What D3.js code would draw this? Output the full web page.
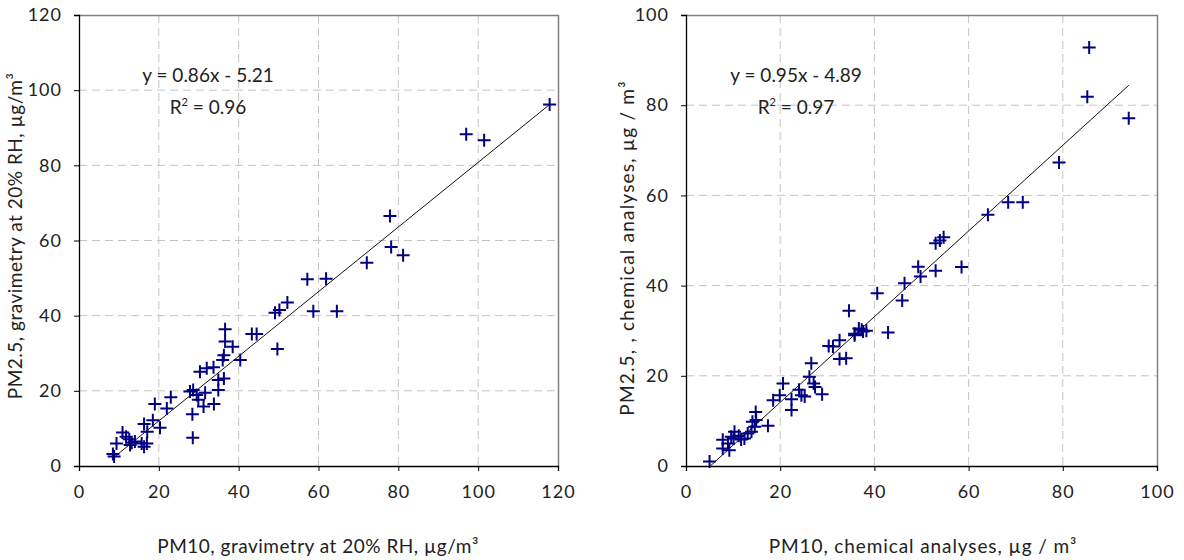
<!DOCTYPE html>
<html>
<head>
<meta charset="utf-8">
<script src="https://cdn.jsdelivr.net/npm/d3@7"></script>
<style>
  body { margin: 0; background: #fff; }
  text { font-family: Lato, "Open Sans", sans-serif; fill: #222; }
</style>
</head>
<body>
<div id="chartArea"></div>
<script>
// left panel: PM10 vs PM2.5, gravimetry at 20% RH
var gravX = [8.5, 8.8, 9.4, 10.9, 11.8, 12.6, 13.2, 12.8, 14.0, 15.7, 16.3, 17.0, 17.1, 16.3, 18.5, 20.3, 19.0, 22.0, 23.0,
  28.5, 28.4, 27.8, 28.6, 29.5, 29.9, 31.2, 31.6, 33.8, 34.9, 34.9, 36.3, 36.0, 36.3, 38.5, 36.6, 36.6, 40.4, 30.3, 32.0,
  33.7, 43.3, 44.5, 72.1, 57.2, 61.9, 52.2, 50.2, 49.1, 58.7, 64.6, 49.7, 77.9, 78.2, 81.2, 97.0, 101.5, 117.9];
var gravY = [3.2, 2.5, 6.0, 8.9, 7.8, 7.1, 6.2, 5.6, 6.5, 6.0, 5.1, 6.0, 9.1, 11.2, 12.2, 10.2, 16.5, 15.3, 18.3,
  7.5, 13.8, 19.8, 20.2, 18.9, 17.6, 15.8, 19.5, 16.5, 20.2, 22.9, 23.3, 28.2, 29.5, 31.7, 33.1, 36.4, 28.2, 25.1, 26.0,
  26.3, 35.1, 35.1, 54.1, 49.7, 49.8, 43.5, 41.5, 40.8, 41.2, 41.2, 31.1, 66.5, 58.3, 56.1, 88.3, 86.7, 96.2];

// right panel: chemical analyses
var chemX = [5.0, 7.8, 7.8, 9.2, 8.9, 9.6, 10.3, 10.1, 11.2, 11.7, 12.4, 13.1, 13.9, 14.6, 14.1, 14.8, 14.9, 17.4, 18.5,
  19.9, 20.6, 22.4, 22.4, 24.0, 24.5, 25.2, 26.2, 26.6, 27.1, 27.4, 28.9, 30.3, 31.2, 32.6, 32.6, 34.0, 35.8, 34.6, 35.8,
  36.7, 37.6, 38.3, 37.3, 42.9, 40.6, 45.9, 46.4, 49.3, 49.8, 53.0, 58.5, 53.0, 54.7, 53.9, 64.1, 68.4, 71.5, 79.2, 85.2,
  85.6, 94.0];
var chemY = [1.0, 5.8, 3.9, 3.5, 5.0, 6.5, 7.6, 6.1, 6.7, 5.9, 6.1, 7.2, 7.6, 8.7, 9.8, 12.0, 10.2, 8.9, 14.6,
  15.7, 18.3, 14.8, 12.4, 16.9, 15.7, 15.4, 19.8, 22.8, 18.3, 17.5, 15.9, 26.6, 26.5, 27.9, 23.7, 23.9, 29.3, 34.4, 29.0,
  30.5, 29.8, 30.0, 30.2, 29.6, 38.3, 36.7, 40.5, 44.2, 42.0, 43.3, 44.1, 49.4, 50.7, 50.0, 55.7, 58.5, 58.5, 67.3, 81.9,
  92.8, 77.1];

var gravTicks = [0, 20, 40, 60, 80, 100, 120];
var chemTicks = [0, 20, 40, 60, 80, 100];

var panels = [
  { xs: gravX, ys: gravY, max: 120, ticks: gravTicks, slope: 0.86, icpt: -5.21, r2: "0.96",
    left: 79, right: 558, xTitle: "PM10, gravimetry at 20% RH, \u00b5g/m\u00b3", xTitleX: 318, xSpacing: 0.5,
    yTitle: "PM2.5, gravimetry at 20% RH, \u00b5g/m\u00b3", yTitleX: 15, yTitleY: 236, ySpacing: 0.5,
    eqX: 208, eqLabel: "y = 0.86x - 5.21" },
  { xs: chemX, ys: chemY, max: 100, ticks: chemTicks, slope: 0.95, icpt: -4.89, r2: "0.97",
    left: 686, right: 1157, xTitle: "PM10, chemical analyses, \u00b5g / m\u00b3", xTitleX: 923, xSpacing: 0.9,
    yTitle: "PM2.5, , chemical analyses, \u00b5g / m\u00b3", yTitleX: 627, yTitleY: 248, ySpacing: 1.2,
    eqX: 796, eqLabel: "y = 0.95x - 4.89" }
];

var plotTop = 15, plotBottom = 466;

var svg = d3.select("#chartArea").append("svg")
  .attr("width", 1184)
  .attr("height", 560);

panels.forEach(function (p) {
  var x = d3.scaleLinear().domain([0, p.max]).range([p.left, p.right]);
  var y = d3.scaleLinear().domain([0, p.max]).range([plotBottom, plotTop]);
  var g = svg.append("g");

  // dashed grid
  g.append("g").selectAll("line")
    .data(p.ticks.slice(1, -1))
    .enter().append("line")
    .attr("x1", d => x(d)).attr("x2", d => x(d))
    .attr("y1", plotTop).attr("y2", plotBottom)
    .attr("stroke", "#c4c4c4").attr("stroke-dasharray", "8,5");
  g.append("g").selectAll("line")
    .data(p.ticks.slice(1, -1))
    .enter().append("line")
    .attr("x1", p.left).attr("x2", p.right)
    .attr("y1", d => y(d)).attr("y2", d => y(d))
    .attr("stroke", "#c4c4c4").attr("stroke-dasharray", "8,5");

  // top and right frame
  g.append("path")
    .attr("d", "M" + p.left + "," + (plotTop + 0.5) + "H" + (p.right + 0.5) + "V" + plotBottom)
    .attr("fill", "none").attr("stroke", "#808080").attr("stroke-width", 1.5);

  // axes
  var xAxis = g.append("g")
    .attr("transform", "translate(0," + plotBottom + ")")
    .call(d3.axisBottom(x).tickValues(p.ticks).tickSize(5).tickPadding(14));
  var yAxis = g.append("g")
    .attr("transform", "translate(" + p.left + ",0)")
    .call(d3.axisLeft(y).tickValues(p.ticks).tickSize(5).tickPadding(12));
  [xAxis, yAxis].forEach(function (a) {
    a.select(".domain").attr("stroke", "#000").attr("stroke-width", 1.3);
    a.selectAll(".tick line").attr("stroke", "#000");
    a.selectAll("text").style("font-size", "18px").style("letter-spacing", "1px")
      .attr("fill", "#222").style("font-family", "Lato, sans-serif");
  });

  // trend line across the data range
  var xmin = d3.min(p.xs), xmax = d3.max(p.xs);
  g.append("line")
    .attr("x1", x(xmin)).attr("y1", y(p.slope * xmin + p.icpt))
    .attr("x2", x(xmax)).attr("y2", y(p.slope * xmax + p.icpt))
    .attr("stroke", "#111").attr("stroke-width", 1);

  // + markers
  g.append("g").selectAll("path")
    .data(p.xs.map((d, i) => [d, p.ys[i]]))
    .enter().append("path")
    .attr("transform", d => "translate(" + x(d[0]) + "," + y(d[1]) + ")")
    .attr("d", "M-6.5,0H6.5M0,-6.5V6.5")
    .attr("stroke", "#000080").attr("stroke-width", 2);

  // equation
  g.append("text")
    .attr("x", p.eqX).attr("y", 82)
    .attr("text-anchor", "middle")
    .style("font-size", "19px")
    .text(p.eqLabel);
  var r = g.append("text")
    .attr("x", p.eqX).attr("y", 114)
    .attr("text-anchor", "middle")
    .style("font-size", "19px");
  r.append("tspan").text("R");
  r.append("tspan").attr("dy", -8).style("font-size", "11px").text("2");
  r.append("tspan").attr("dy", 8).text(" = " + p.r2);

  // axis titles
  g.append("text")
    .attr("x", p.xTitleX).attr("y", 553)
    .attr("text-anchor", "middle")
    .style("font-size", "19px").style("letter-spacing", p.xSpacing + "px")
    .text(p.xTitle);
  g.append("text")
    .attr("transform", "translate(" + p.yTitleX + "," + p.yTitleY + ") rotate(-90)")
    .attr("text-anchor", "middle")
    .attr("dy", "0.35em")
    .style("font-size", "19px").style("letter-spacing", p.ySpacing + "px")
    .text(p.yTitle);
});
</script>
</body>
</html>
